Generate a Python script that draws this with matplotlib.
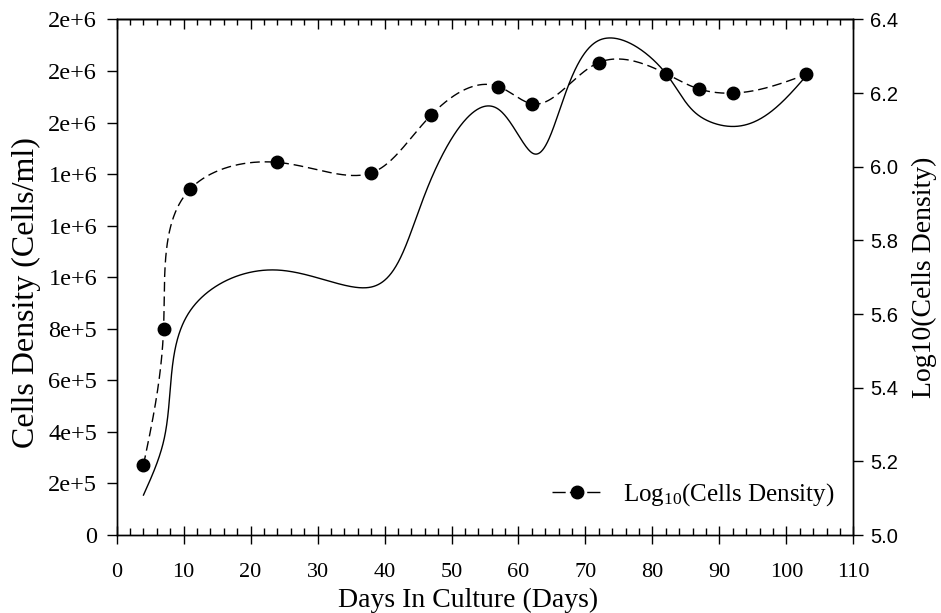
import numpy as np
import matplotlib
matplotlib.use("Agg")
import matplotlib.pyplot as plt
from matplotlib.ticker import MultipleLocator, FixedLocator

# Culture days and measured cell densities (cells/ml)
days = [4, 7, 11, 24, 38, 47, 57, 62, 72, 82, 87, 92, 103]
cells_density = [1.55e5, 3.63e5, 8.71e5, 1.028e6, 9.62e5, 1.384e6, 1.652e6,
                 1.483e6, 1.919e6, 1.791e6, 1.626e6, 1.585e6, 1.782e6]

left_ticks = [0, 2e5, 4e5, 6e5, 8e5, 1.0e6, 1.2e6, 1.4e6, 1.6e6, 1.8e6, 2.0e6]
left_tick_labels = ["0", "2e+5", "4e+5", "6e+5", "8e+5", "1e+6", "1e+6",
                    "1e+6", "2e+6", "2e+6", "2e+6"]
right_ticks = [5.0, 5.2, 5.4, 5.6, 5.8, 6.0, 6.2, 6.4]
x_ticks = list(range(0, 111, 10))

X_RANGE = (0, 110)
LEFT_RANGE = (0, 2.0e6)
RIGHT_RANGE = (5.0, 6.4)


def natural_spline_coeffs(t, v):
    n = len(t)
    h = np.diff(t)
    A = np.zeros((n, n))
    r = np.zeros(n)
    A[0, 0] = A[-1, -1] = 1.0
    for i in range(1, n - 1):
        A[i, i - 1] = h[i - 1]
        A[i, i] = 2.0 * (h[i - 1] + h[i])
        A[i, i + 1] = h[i]
        r[i] = 3.0 * ((v[i + 1] - v[i]) / h[i] - (v[i] - v[i - 1]) / h[i - 1])
    c = np.linalg.solve(A, r)
    b = (v[1:] - v[:-1]) / h - h * (2.0 * c[:-1] + c[1:]) / 3.0
    d = (c[1:] - c[:-1]) / (3.0 * h)
    return b, c, d


def eval_spline(t, v, coeffs, ts):
    b, c, d = coeffs
    idx = np.clip(np.searchsorted(t, ts, side="right") - 1, 0, len(t) - 2)
    s = ts - t[idx]
    return v[idx] + b[idx] * s + c[idx] * s ** 2 + d[idx] * s ** 3


def smooth_curve(x, y, xr, yr, aspect, num=1200):
    """Parametric (chord-length) natural spline through the points,
    computed in axes-box proportions so the curve looks even on screen."""
    x = np.asarray(x, float)
    y = np.asarray(y, float)
    u = (x - xr[0]) / (xr[1] - xr[0]) * aspect
    w = (y - yr[0]) / (yr[1] - yr[0])
    t = np.concatenate([[0.0], np.cumsum(np.hypot(np.diff(u), np.diff(w)))])
    ts = np.linspace(0, t[-1], num)
    us = eval_spline(t, u, natural_spline_coeffs(t, u), ts)
    ws = eval_spline(t, w, natural_spline_coeffs(t, w), ts)
    xs = us / aspect * (xr[1] - xr[0]) + xr[0]
    ys = ws * (yr[1] - yr[0]) + yr[0]
    return xs, ys


serif = "Liberation Serif"
sans = "Liberation Sans"
plt.rcParams["mathtext.fontset"] = "custom"
plt.rcParams["mathtext.rm"] = serif
plt.rcParams["mathtext.it"] = serif + ":italic"

fig_w, fig_h = 9.41, 6.13
ax_rect = [0.124, 0.1272, 0.7828, 0.8410]
box_aspect = (ax_rect[2] * fig_w) / (ax_rect[3] * fig_h)

log_density = np.log10(cells_density)
xs_lin, density_curve = smooth_curve(days, cells_density, X_RANGE,
                                     LEFT_RANGE, box_aspect)
xs_log, log_curve = smooth_curve(days, log_density, X_RANGE, RIGHT_RANGE,
                                 box_aspect)

fig = plt.figure(figsize=(fig_w, fig_h), dpi=100)
ax = fig.add_axes(ax_rect)
ax2 = ax.twinx()

# Cell density (linear scale, left axis)
ax.plot(xs_lin, density_curve, color="black", lw=1.0)

# Log10 of cell density (right axis)
dash = (7, 3.5)
ax2.plot(xs_log, log_curve, color="black", lw=1.0, dashes=dash)
ax2.plot(days, log_density, linestyle="none", marker="o", ms=9,
         color="black")
legend_handle, = ax2.plot([], [], color="black", lw=1.0, dashes=(9.5, 3),
                          marker="o", ms=9)

ax.set_xlim(*X_RANGE)
ax.set_ylim(*LEFT_RANGE)
ax2.set_ylim(*RIGHT_RANGE)

# Bottom axis
ax.xaxis.set_major_locator(FixedLocator(x_ticks))
ax.xaxis.set_minor_locator(MultipleLocator(2))
ax.tick_params(axis="x", which="major", direction="inout", length=13,
               width=1.0, bottom=True, top=False, pad=14)
ax.tick_params(axis="x", which="minor", direction="in", length=5,
               width=1.0, bottom=True, top=False)
for lab in ax.get_xticklabels():
    lab.set_fontfamily(serif)
    lab.set_fontsize(16)

# Top axis: ticks only
top = ax.secondary_xaxis("top")
top.xaxis.set_major_locator(FixedLocator(x_ticks))
top.xaxis.set_minor_locator(MultipleLocator(2))
top.tick_params(axis="x", which="major", direction="in", length=7, width=1.0,
                labeltop=False)
top.tick_params(axis="x", which="minor", direction="in", length=4, width=1.0)
top.spines["top"].set_linewidth(1.0)

# Left axis
ax.yaxis.set_major_locator(FixedLocator(left_ticks))
ax.set_yticklabels(left_tick_labels, fontfamily=serif, fontsize=17.5)
ax.tick_params(axis="y", which="major", direction="out", length=7, width=1.0,
               pad=7)

# Right axis
ax2.yaxis.set_major_locator(FixedLocator(right_ticks))
ax2.set_yticklabels([f"{v:.1f}" for v in right_ticks], fontfamily=sans,
                    fontsize=14.5)
ax2.tick_params(axis="y", which="major", direction="out", length=7, width=1.0,
                pad=5)

for a in (ax, ax2):
    for s in a.spines.values():
        s.set_linewidth(1.0)

ax.set_xlabel("Days In Culture (Days)", fontfamily=serif, fontsize=20)
ax.xaxis.set_label_coords(0.4768, -0.102)
ax.set_ylabel("Cells Density (Cells/ml)", fontfamily=serif, fontsize=23)
ax.yaxis.set_label_coords(-0.1028, 0.47)
ax2.set_ylabel("Log10(Cells Density)", fontfamily=serif, fontsize=20,
               rotation=90, labelpad=10)

ax2.legend([legend_handle], [r"Log$_{10}$(Cells Density)"],
           loc="center left", bbox_to_anchor=(0.5734, 0.078), frameon=False,
           borderpad=0, handlelength=2.04, handletextpad=0.8,
           prop={"family": serif, "size": 18})

fig.savefig("out.png", dpi=100)
